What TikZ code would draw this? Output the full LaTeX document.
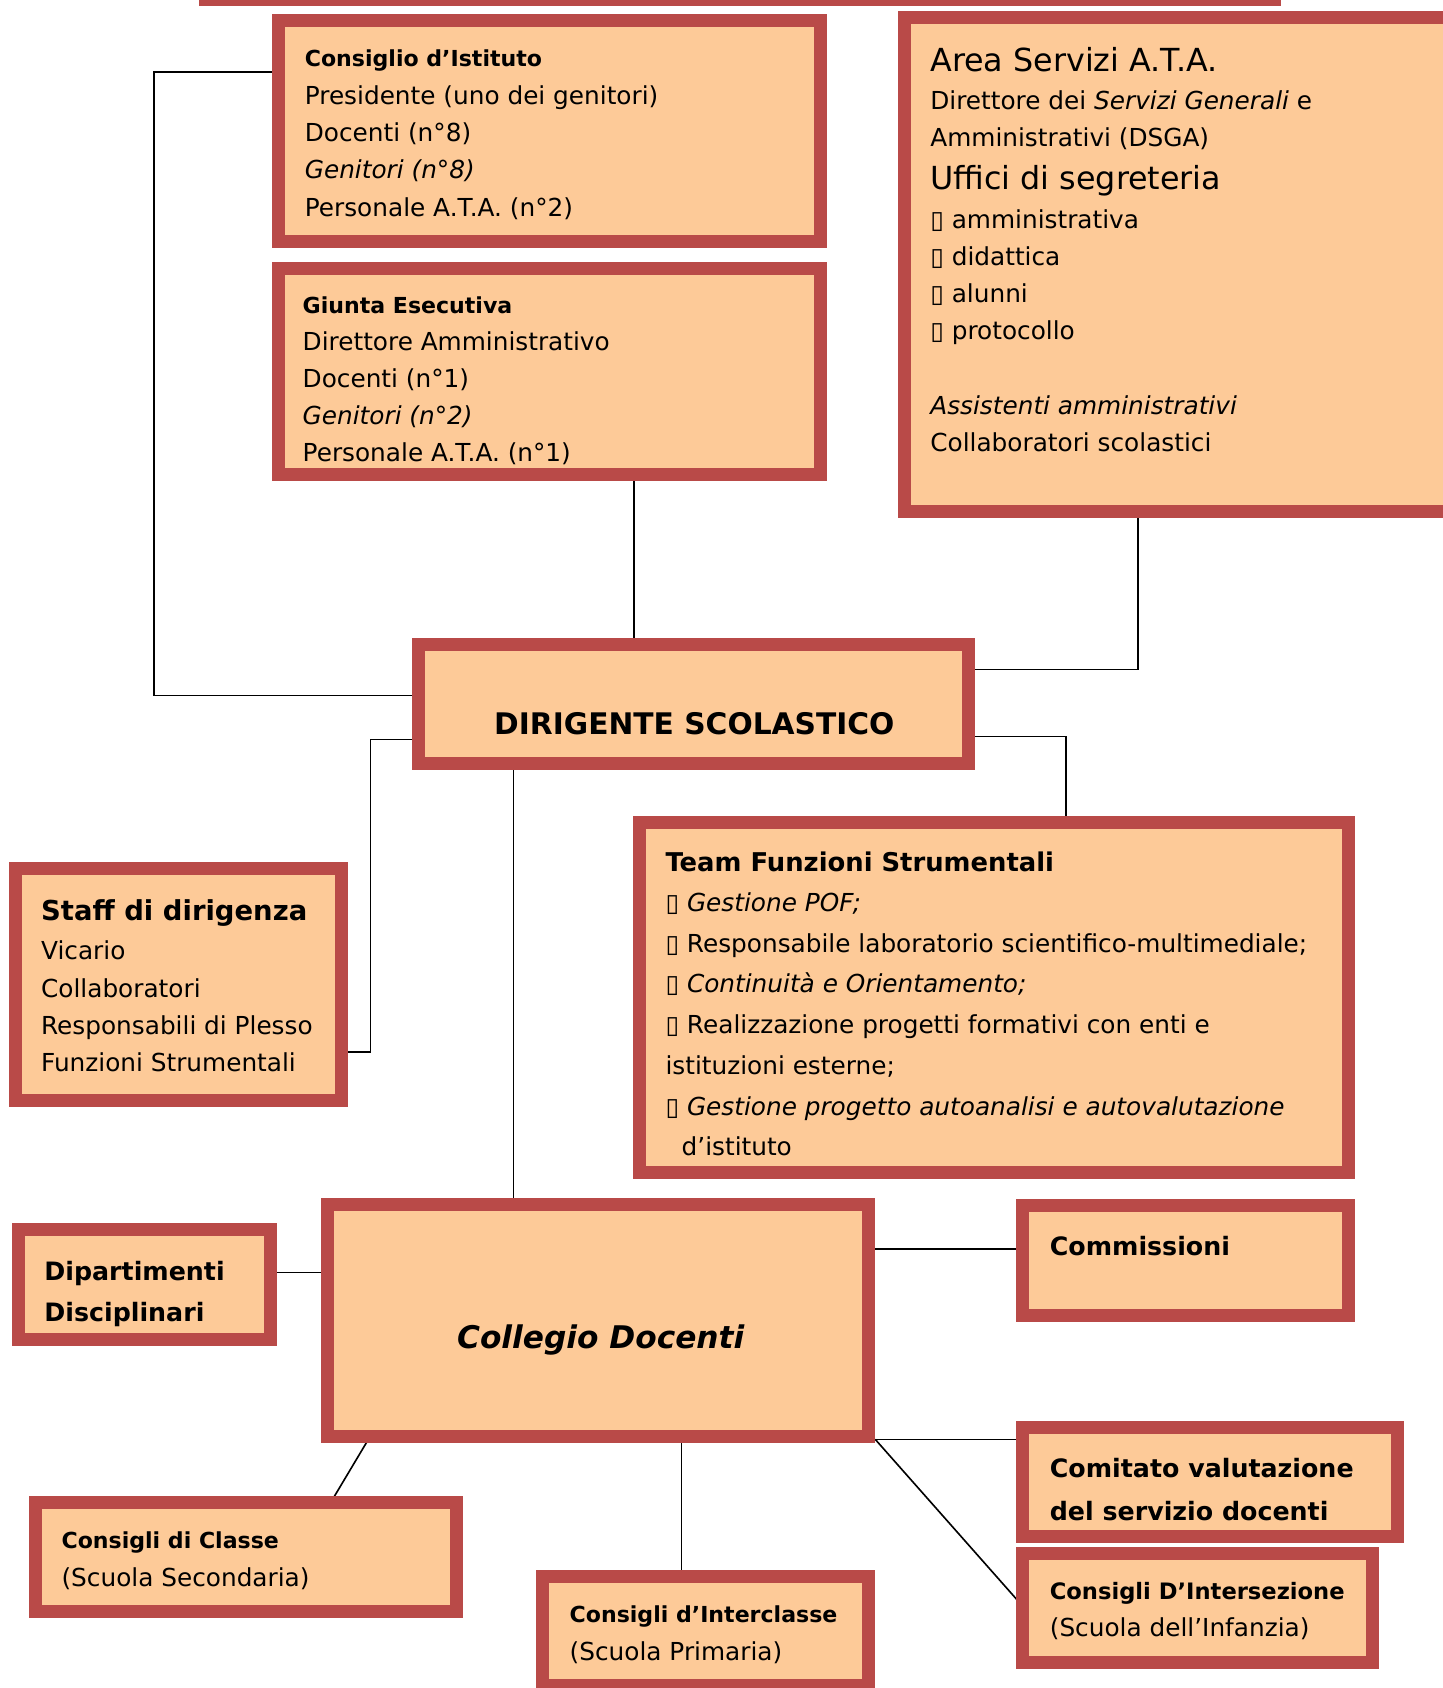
\documentclass[tikz,border=0pt]{standalone}
\usepackage{fontspec}
\setmainfont{DejaVu Sans}
\usepackage{tikz}
\usepackage{xcolor}
\usetikzlibrary{positioning,backgrounds}
\definecolor{orgred}{RGB}{185,74,72}
\definecolor{orgfill}{RGB}{253,202,152}
\newcommand{\bodyfont}[1]{\fontsize{23}{#1}\selectfont}
\newcommand{\headfont}[1]{\fontsize{#1}{#1}\selectfont\bfseries}

\begin{document}
\begin{tikzpicture}[x=1pt,y=-1pt,
    orgbox/.style={draw=orgred, fill=orgfill, line width=12pt, inner sep=0pt, outer sep=0pt},
    txt/.style={anchor=north west, align=left, inner sep=0pt},
    link/.style={draw=black, line width=1.5pt}]
  \useasboundingbox (0,0) rectangle (1340,1568);

  % boxes of the upper half
  \node[orgbox, minimum width=993pt, minimum height=94pt] (topbox) at (687.5,-47) {};
  \node[orgbox, minimum width=503pt, minimum height=205pt] (consiglio) at (510.5,121.5) {};
  \node[orgbox, minimum width=503pt, minimum height=192pt] (giunta) at (510.5,345) {};
  \node[orgbox, minimum width=514pt, minimum height=459pt] (area) at (1097,245.5) {};
  \node[orgbox, minimum width=511pt, minimum height=110pt] (dirigente) at (644.5,654) {};
  \node[orgbox, minimum width=659pt, minimum height=325pt] (team) at (923.5,926.5) {};
  \node[orgbox, minimum width=303pt, minimum height=215pt] (staff) at (165.5,914.5) {};

  % boxes of the lower half
  \node[orgbox, minimum width=234pt, minimum height=102pt] (dipartimenti) at (134,1193) {};
  \node[orgbox, minimum width=503pt, minimum height=215pt] (collegio) at (555.5,1226.5) {};
  \node[orgbox, minimum width=303pt, minimum height=102pt] (commissioni) at (1101.5,1171) {};
  \node[orgbox, minimum width=348pt, minimum height=101pt] (comitato) at (1124,1376.5) {};
  \node[orgbox, minimum width=325pt, minimum height=101pt] (intersezione) at (1112.5,1493.5) {};
  \node[orgbox, minimum width=391pt, minimum height=101pt] (classe) at (228.5,1446.5) {};
  \node[orgbox, minimum width=303pt, minimum height=102pt] (interclasse) at (655.5,1515) {};

  % texts
  \node[txt, font=\bodyfont{34.7}] (consiglio-txt) at (283,37.6)
    {\strut{\headfont{20.5}Consiglio d’Istituto}\\Presidente (uno dei genitori)\\Docenti (n°8)\\{\itshape Genitori (n°8)}\\Personale A.T.A. (n°2)};
  \node[txt, font=\bodyfont{34.5}] (giunta-txt) at (281,266.5)
    {\strut{\headfont{20.5}Giunta Esecutiva}\\Direttore Amministrativo\\Docenti (n°1)\\{\itshape Genitori (n°2)}\\Personale A.T.A. (n°1)};
  \node[txt, font=\bodyfont{34.5}] (area-txt) at (864,42)
    {\strut{\fontsize{29.5}{30}\selectfont Area Servizi A.T.A.}\\[0.5pt]
     Direttore dei {\itshape Servizi Generali} e\\[0.5pt]
     Amministrativi (DSGA)\\[5.4pt]
     {\fontsize{29.5}{30}\selectfont Uffici di segreteria}\\[1.5pt]
     ▯ amministrativa\\▯ didattica\\▯ alunni\\▯ protocollo\\[34.5pt]
     {\itshape Assistenti amministrativi}\\Collaboratori scolastici};
  \node[font=\headfont{27.6}] (dirigente-txt) at (645,672) {DIRIGENTE SCOLASTICO};
  \node[txt, font=\bodyfont{37.8}] (team-txt) at (618,783)
    {\strut{\headfont{24}Team Funzioni Strumentali}\\[-0.7pt]
     ▯ {\itshape Gestione POF;}\\
     ▯ Responsabile laboratorio scientifico-multimediale;\\
     ▯ {\itshape Continuità e Orientamento;}\\
     ▯ Realizzazione progetti formativi con enti e\\
     istituzioni esterne;\\
     ▯ {\itshape Gestione progetto autoanalisi e autovalutazione}\\
     \hspace{15pt}d’istituto};
  \node[txt, font=\bodyfont{34.8}] (staff-txt) at (38,830.5)
    {\strut{\headfont{25.5}Staff di dirigenza}\\[1.5pt]Vicario\\Collaboratori\\Responsabili di Plesso\\Funzioni Strumentali};
  \node[txt, font=\bodyfont{38}] (dipartimenti-txt) at (41,1162.5)
    {\strut{\headfont{23.5}Dipartimenti}\\{\headfont{23.5}Disciplinari}};
  \node[anchor=base, inner sep=0pt, font=\fontsize{29}{30}\selectfont\bfseries\itshape] (collegio-txt) at (558,1253) {Collegio Docenti};
  \node[txt, font=\bodyfont{40}] (commissioni-txt) at (975,1138) {\strut{\headfont{23.5}Commissioni}};
  \node[txt, font=\bodyfont{40}] (comitato-txt) at (975,1344)
    {\strut{\headfont{23.5}Comitato valutazione}\\{\headfont{23.5}del servizio docenti}};
  \node[txt, font=\bodyfont{34.7}] (intersezione-txt) at (975,1461)
    {\strut{\headfont{21}Consigli D’Intersezione}\\(Scuola dell’Infanzia)};
  \node[txt, font=\bodyfont{35.8}] (classe-txt) at (57,1413)
    {\strut{\headfont{20.5}Consigli di Classe}\\(Scuola Secondaria)};
  \node[txt, font=\bodyfont{34.8}] (interclasse-txt) at (529,1482.8)
    {\strut{\headfont{20.5}Consigli d’Interclasse}\\(Scuola Primaria)};

  % connectors
  \begin{scope}[on background layer]
    \coordinate (cdx) at (813,1337);
    \draw[link] (consiglio.west |- 0,67) -| (143,646) -- (dirigente.west |- 0,646);
    \draw[link] (giunta.south -| 589,0) -- (dirigente.north -| 589,0);
    \draw[link] (area.south -| 1057,0) |- (dirigente.east |- 0,622);
    \draw[link] (dirigente.east |- 0,684) -| (team.north -| 990,0);
    \draw[link] (dirigente.west |- 0,687) -| (344,977) -- (staff.east |- 0,977);
    \draw[link] (dirigente.south -| 477,0) -- (collegio.north -| 477,0);
    \draw[link] (collegio.west |- 0,1182) -- (dipartimenti.east |- 0,1182);
    \draw[link] (collegio.east |- 0,1160) -- (commissioni.west |- 0,1160);
    \draw[link] (cdx) -- (comitato.west |- cdx);
    \draw[link] (cdx) -- (intersezione.west |- 0,1492);
    \draw[link] (collegio.south -| 344,0) -- (classe.north -| 307,0);
    \draw[link] (collegio.south -| 633,0) -- (interclasse.north -| 633,0);
  \end{scope}
\end{tikzpicture}
\end{document}
